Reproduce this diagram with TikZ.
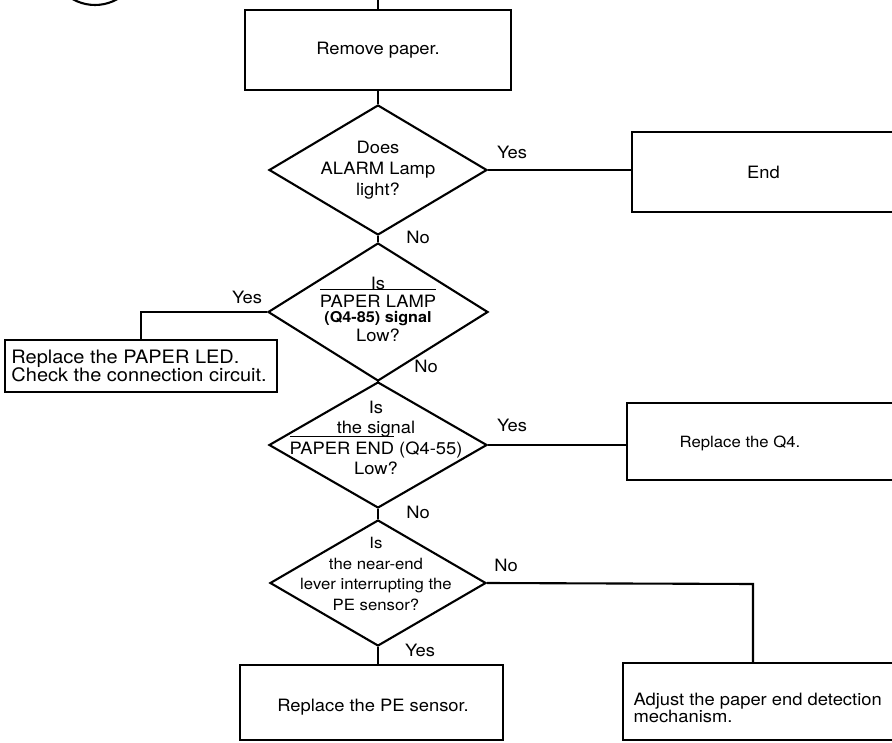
\documentclass[tikz,border=0pt]{standalone}
\usepackage{fontspec}
\setmainfont{TeX Gyre Heros}[FakeStretch=1.08]
\usetikzlibrary{shapes.geometric}
\newlength\ovlw
\newcommand\ovl[1]{\settowidth\ovlw{#1}\rlap{\smash{\rule[1.0em]{\ovlw}{1pt}}}#1}
\begin{document}
\begin{tikzpicture}[x=1pt,y=-1pt,
  every node/.style={font=\fontsize{17}{21}\selectfont},
  ln/.style={line width=2.1pt},
  boxst/.style={draw, line width=2.1pt, rectangle, inner sep=0pt},
  dia/.style={draw, line width=2.1pt, diamond, inner sep=0pt},
  lbl/.style={inner sep=0pt}]
\useasboundingbox (0,0) rectangle (892,743);
% partial connector circle at top left
\draw[ln] (95,-40) circle (45pt);

\coordinate (top) at (378,0);
\node[boxst, minimum width=266pt, minimum height=80pt] (b1) at (378,50) {Remove paper.};

\node[dia, minimum width=218pt, minimum height=130pt] (d1) at (378,170) {};
\node[align=center] (t1) at (d1) {Does\\ALARM Lamp\\light?};

\node[boxst, minimum width=263pt, minimum height=80pt] (e1) at (763.5,172) {End};

\node[dia, minimum width=220pt, minimum height=138pt] (d2) at (378,312) {};
\node[align=center, font=\fontsize{17}{14}\selectfont] (t2) at (378,309)
  {Is\\[4pt]\ovl{PAPER LAMP}\\[1pt]{\fontsize{15}{14}\selectfont\bfseries (Q4-85) signal}\\[2pt]Low?};

\node[boxst, minimum width=272pt, minimum height=52pt] (l1) at (141,366) {};
\node[anchor=west, xshift=4pt, align=left, font=\fontsize{18.5}{18.5}\selectfont] (t3) at (l1.west)
  {Replace the PAPER LED.\\Check the connection circuit.};

\node[dia, minimum width=218pt, minimum height=126pt] (d3) at (378,445) {};
\node[align=center, font=\fontsize{17}{20.5}\selectfont] (t4) at (376,438)
  {Is\\the signal\\\ovl{PAPER END} (Q4-55)\\Low?};

\node[boxst, minimum width=268pt, minimum height=77pt] (q4) at (761,441.5) {};
\node[font=\fontsize{15.5}{17}\selectfont] (t5) at (740,443) {Replace the Q4.};

\node[dia, minimum width=216pt, minimum height=126pt] (d4) at (378,583) {};
\node[align=center, font=\fontsize{15.5}{20.5}\selectfont] (t6) at (376,574)
  {Is\\the near-end\\lever interrupting the\\PE sensor?};

\node[boxst, minimum width=263pt, minimum height=75pt] (p1) at (371.5,702.5) {};
\node (t7) at (373,707) {Replace the PE sensor.};

\node[boxst, minimum width=272pt, minimum height=77pt] (a1) at (759,701.5) {};
\node[anchor=west, align=left, font=\fontsize{17}{17}\selectfont] (t8) at (630,708)
  {Adjust the paper end detection\\mechanism.};

\coordinate (c4) at (753,584);

% connectors
\draw[ln] (top) -- (b1.north);
\draw[ln] (b1.south) -- (d1.north);
\draw[ln] (d1.east) -- (d1.east -| e1.west);
\draw[ln] (d1.south) -- (d2.north);
\draw[ln] (d2.west) -| (l1.north);
\draw[ln] (d2.south) -- (d3.north);
\draw[ln] (d3.east) -- (d3.east -| q4.west);
\draw[ln] (d3.south) -- (d4.north);
\draw[ln] (d4.east) -- (c4) -- (c4 |- a1.north);
\draw[ln] (d4.south) -- (d4.south |- p1.north);

% labels
\node[lbl] (y1) at (512,152) {Yes};
\node[lbl] (n1) at (418,237) {No};
\node[lbl] (y2) at (247,297) {Yes};
\node[lbl] (n2) at (426,366) {No};
\node[lbl] (y3) at (512,425) {Yes};
\node[lbl] (n3) at (418,512) {No};
\node[lbl] (n4) at (506,565) {No};
\node[lbl] (y4) at (420,650) {Yes};
\end{tikzpicture}
\end{document}
